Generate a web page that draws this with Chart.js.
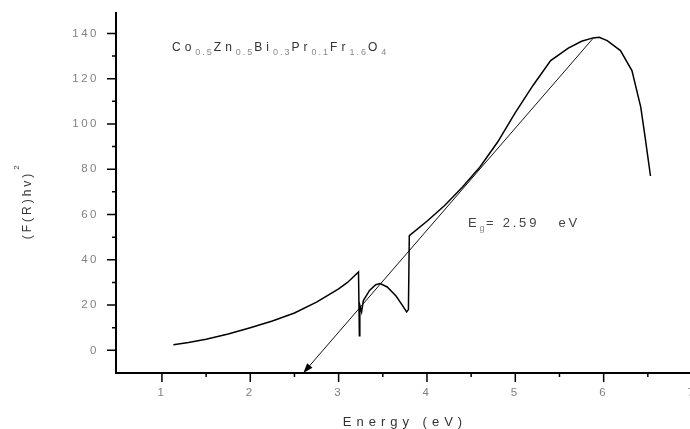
<!DOCTYPE html>
<html>
<head>
<meta charset="utf-8">
<script src="https://cdn.jsdelivr.net/npm/chart.js@4.4.0/dist/chart.umd.min.js"></script>
<style>
html, body { margin: 0; padding: 0; overflow: hidden; background: #fff; }
#wrap { width: 700px; height: 429px; }
</style>
</head>
<body>
<div id="wrap"><canvas id="kmChart" width="700" height="429"></canvas></div>
<script>
// Kubelka-Munk curve
const energy = [1.13, 1.3, 1.5, 1.75, 2.0, 2.25, 2.5, 2.75, 3.0, 3.1, 3.225,
    3.235, 3.24, 3.26, 3.28, 3.35, 3.42, 3.47, 3.55, 3.65, 3.72, 3.77, 3.79,
    3.80, 4.0, 4.2, 4.4, 4.6, 4.8, 5.0, 5.2, 5.4, 5.6, 5.75, 5.88, 5.95, 6.04,
    6.19, 6.32, 6.42, 6.47, 6.53];
const kmValues = [2.5, 3.5, 4.9, 7.2, 10, 13, 16.5, 21.3, 27.2, 30, 34.6,
    6.5, 20, 17, 22, 26.5, 29, 29.5, 28, 24, 20, 17, 18,
    50.7, 57, 64, 72, 81, 92, 105, 117, 128, 133.5, 136.5, 138, 138.3, 136.8,
    132.4, 123.6, 107.4, 94, 77];

// extrapolated fit line (from the peak down to the axis, arrow at the end)
const fitEnergy = [5.88, 2.60];
const fitValues = [137.8, -10];

// axis ticks
const xMajorTicks = [1, 2, 3, 4, 5, 6, 7];
const xMinorTicks = [1.5, 2.5, 3.5, 4.5, 5.5, 6.5];
const yMajorTicks = [0, 20, 40, 60, 80, 100, 120, 140];
const yMinorTicks = [10, 30, 50, 70, 90, 110, 130];

// texts
const formulaParts = [['Co', false], ['0.5', true], ['Zn', false], ['0.5', true],
    ['Bi', false], ['0.3', true], ['Pr', false], ['0.1', true],
    ['Fr', false], ['1.6', true], ['O', false], ['4', true]];
const bandGapParts = [['E', false], ['g', true], ['= 2.59   eV', false]];
const xTitle = 'Energy (eV)';
const yTitle = '(F(R)hv)';

const FONT = '"Liberation Sans", Arial, sans-serif';

// draw text with subscripts, returns end x
function drawRich(ctx, x, y, parts, size, subSize, spacing, color, subColor) {
    parts.forEach(([t, sub]) => {
        ctx.font = (sub ? subSize : size) + 'px ' + FONT;
        ctx.letterSpacing = (sub ? spacing * 0.5 : spacing) + 'px';
        ctx.fillStyle = sub ? subColor : color;
        ctx.fillText(t, x, sub ? y + 4 : y);
        x += ctx.measureText(t).width;
    });
    return x;
}

// keep the plot area where the reference has it
function noScalePadding(s) {
    s.paddingTop = 0;
    s.paddingBottom = 0;
    s.paddingLeft = 0;
    s.paddingRight = 0;
}

const decorations = {
    id: 'decorations',
    beforeDraw(chart) {
        chart.ctx.letterSpacing = '2.5px';
    },
    afterDatasetsDraw(chart) {
        // arrow head at the end of the fit line
        const pts = chart.getDatasetMeta(1).data;
        const a = pts[0], b = pts[1];
        const ang = Math.atan2(b.y - a.y, b.x - a.x);
        const ctx = chart.ctx;
        ctx.save();
        ctx.translate(b.x, b.y);
        ctx.rotate(ang);
        ctx.beginPath();
        ctx.moveTo(0, 0);
        ctx.lineTo(-10, -3.5);
        ctx.lineTo(-10, 3.5);
        ctx.closePath();
        ctx.fillStyle = '#000';
        ctx.fill();
        ctx.restore();
    },
    afterDraw(chart) {
        const ctx = chart.ctx;
        const xs = chart.scales.x, ys = chart.scales.y;
        const area = chart.chartArea;
        ctx.save();
        ctx.strokeStyle = '#000';
        ctx.lineWidth = 1.5;
        ctx.beginPath();
        xMajorTicks.forEach(v => { const p = xs.getPixelForValue(v); ctx.moveTo(p, area.bottom); ctx.lineTo(p, area.bottom + 9); });
        xMinorTicks.forEach(v => { const p = xs.getPixelForValue(v); ctx.moveTo(p, area.bottom); ctx.lineTo(p, area.bottom + 4); });
        yMajorTicks.forEach(v => { const p = ys.getPixelForValue(v); ctx.moveTo(area.left, p); ctx.lineTo(area.left - 9, p); });
        yMinorTicks.forEach(v => { const p = ys.getPixelForValue(v); ctx.moveTo(area.left, p); ctx.lineTo(area.left - 4, p); });
        ctx.stroke();

        ctx.textAlign = 'left';
        ctx.textBaseline = 'alphabetic';
        drawRich(ctx, 172, 51, formulaParts, 12, 9, 4, '#333', '#888');
        drawRich(ctx, 468, 227, bandGapParts, 13, 9, 2.8, '#444', '#888');

        // x title
        ctx.font = '13px ' + FONT;
        ctx.letterSpacing = '5px';
        ctx.fillStyle = '#333';
        ctx.textAlign = 'center';
        ctx.fillText(xTitle, 405, 426);

        // y title, rotated
        ctx.translate(31, 205);
        ctx.rotate(-Math.PI / 2);
        ctx.font = '12px ' + FONT;
        ctx.letterSpacing = '3px';
        ctx.textAlign = 'center';
        ctx.fillText(yTitle, 0, 0);
        const w = ctx.measureText(yTitle).width;
        ctx.font = '8px ' + FONT;
        ctx.letterSpacing = '0px';
        ctx.textAlign = 'left';
        ctx.fillText('2', w / 2 + 1, -12);
        ctx.restore();
    }
};

const tickFont = { family: FONT, size: 11.5 };

new Chart(document.getElementById('kmChart').getContext('2d'), {
    type: 'line',
    data: {
        datasets: [{
            data: energy.map((x, i) => ({ x: x, y: kmValues[i] })),
            borderColor: '#000',
            borderWidth: 1.5,
            pointRadius: 0,
            tension: 0
        }, {
            data: fitEnergy.map((x, i) => ({ x: x, y: fitValues[i] })),
            borderColor: '#111',
            borderWidth: 1,
            pointRadius: 0,
            tension: 0,
            clip: false
        }]
    },
    options: {
        responsive: false,
        animation: false,
        devicePixelRatio: 1,
        layout: { padding: { top: 13, right: 8, left: 0, bottom: 0 } },
        plugins: { legend: { display: false }, tooltip: { enabled: false } },
        scales: {
            x: {
                type: 'linear',
                min: 0.48,
                max: 7,
                afterBuildTicks: s => { s.ticks = xMajorTicks.map(v => ({ value: v })); },
                afterFit: s => { s.height = 56; noScalePadding(s); },
                grid: { display: false, drawTicks: false },
                border: { color: '#000', width: 2 },
                ticks: { padding: 13, color: '#808080', font: tickFont, maxRotation: 0, autoSkip: false }
            },
            y: {
                type: 'linear',
                min: -10,
                max: 149,
                afterBuildTicks: s => { s.ticks = yMajorTicks.map(v => ({ value: v })); },
                afterFit: s => { s.width = 116; noScalePadding(s); },
                grid: { display: false, drawTicks: false },
                border: { color: '#000', width: 2 },
                ticks: { padding: 17, color: '#808080', font: tickFont, autoSkip: false }
            }
        }
    },
    plugins: [decorations]
});
</script>
</body>
</html>
